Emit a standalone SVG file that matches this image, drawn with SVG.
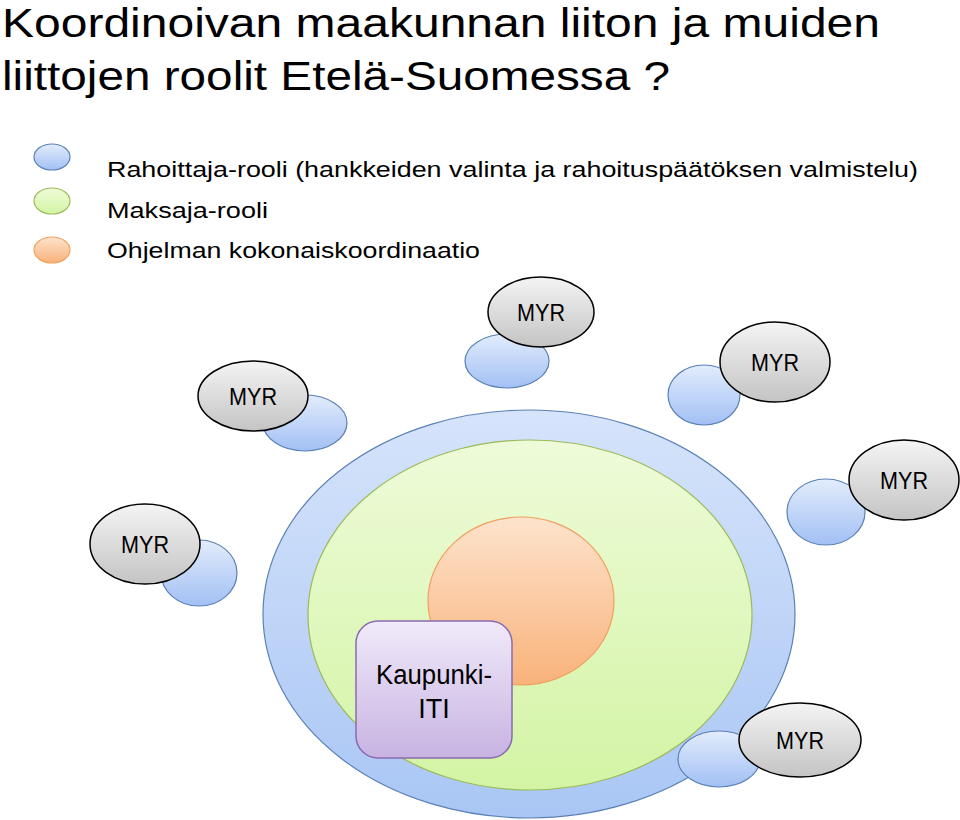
<svg xmlns="http://www.w3.org/2000/svg" width="960" height="820" viewBox="0 0 960 820">
<defs>
<linearGradient id="gGrey" x1="0" y1="0" x2="0" y2="1"><stop offset="0" stop-color="#f4f4f4"/><stop offset="1" stop-color="#c4c4c4"/></linearGradient>
<linearGradient id="gBlue" x1="0" y1="0" x2="0" y2="1"><stop offset="0" stop-color="#e2ecfc"/><stop offset="1" stop-color="#a2c0f4"/></linearGradient>
<linearGradient id="gBig" x1="0" y1="0" x2="0" y2="1"><stop offset="0" stop-color="#d6e4fb"/><stop offset="1" stop-color="#a9c6f4"/></linearGradient>
<linearGradient id="gGreen" x1="0" y1="0" x2="0" y2="1"><stop offset="0" stop-color="#eefbd9"/><stop offset="1" stop-color="#d3f4a4"/></linearGradient>
<linearGradient id="gOrange" x1="0" y1="0" x2="0" y2="1"><stop offset="0" stop-color="#fde3cc"/><stop offset="1" stop-color="#f9b27a"/></linearGradient>
<linearGradient id="gPurple" x1="0" y1="0" x2="0" y2="1"><stop offset="0" stop-color="#f1eafa"/><stop offset="1" stop-color="#c7b3e2"/></linearGradient>
</defs>
<style>
text{font-family:"Liberation Sans",Arial,sans-serif;fill:#000}
.title{font-size:40px}
.leg{font-size:22px}
.myr{font-size:24px;text-anchor:middle}
.grey{fill:url(#gGrey);stroke:#000;stroke-width:1.5}
.blue{fill:url(#gBlue);stroke:#5b80b6;stroke-width:1.2}
</style>
<g id="title">
<text class="title" x="2" y="37" textLength="878" lengthAdjust="spacingAndGlyphs">Koordinoivan maakunnan liiton ja muiden</text>
<text class="title" x="2" y="90" textLength="668" lengthAdjust="spacingAndGlyphs">liittojen roolit Etelä-Suomessa ?</text>
</g>
<g id="legend">
<ellipse cx="52" cy="157" rx="18" ry="13" class="blue"/>
<ellipse cx="52" cy="201" rx="18" ry="13" fill="url(#gGreen)" stroke="#9bbb59" stroke-width="1.2"/>
<ellipse cx="52" cy="250" rx="18" ry="13" fill="url(#gOrange)" stroke="#f0a060" stroke-width="1.2"/>
<text class="leg" x="107" y="177" textLength="811" lengthAdjust="spacingAndGlyphs">Rahoittaja-rooli (hankkeiden valinta ja rahoituspäätöksen valmistelu)</text>
<text class="leg" x="107" y="218" textLength="161" lengthAdjust="spacingAndGlyphs">Maksaja-rooli</text>
<text class="leg" x="107" y="258" textLength="373" lengthAdjust="spacingAndGlyphs">Ohjelman kokonaiskoordinaatio</text>
</g>
<g id="rings">
<ellipse cx="529" cy="614" rx="266" ry="204" fill="url(#gBig)" stroke="#5b80b6" stroke-width="1.2"/>
<ellipse cx="530" cy="615" rx="222" ry="175" fill="url(#gGreen)" stroke="#9bbb59" stroke-width="1.2"/>
<ellipse cx="521" cy="601" rx="93" ry="84" fill="url(#gOrange)" stroke="#f0a060" stroke-width="1.2"/>
</g>
<g id="kaupunki-iti">
<rect x="356" y="621" width="156" height="137" rx="22" fill="url(#gPurple)" stroke="#8a6bb0" stroke-width="1.5"/>
<text x="434" y="684" font-size="27" text-anchor="middle" textLength="116" lengthAdjust="spacingAndGlyphs">Kaupunki-</text>
<text x="434" y="718" font-size="27" text-anchor="middle">ITI</text>
</g>
<g id="myr1">
<ellipse cx="507" cy="361" rx="42" ry="27" class="blue"/>
<ellipse cx="541" cy="312" rx="53" ry="35" class="grey"/>
<text class="myr" x="541" y="321" textLength="48" lengthAdjust="spacingAndGlyphs">MYR</text>
</g>
<g id="myr2">
<ellipse cx="305" cy="423" rx="42" ry="28" class="blue"/>
<ellipse cx="253" cy="396" rx="55" ry="35" class="grey"/>
<text class="myr" x="253" y="405" textLength="48" lengthAdjust="spacingAndGlyphs">MYR</text>
</g>
<g id="myr3">
<ellipse cx="704" cy="395" rx="36" ry="30" class="blue"/>
<ellipse cx="775" cy="362" rx="55" ry="40" class="grey"/>
<text class="myr" x="775" y="371" textLength="48" lengthAdjust="spacingAndGlyphs">MYR</text>
</g>
<g id="myr4">
<ellipse cx="826" cy="512" rx="39" ry="33" class="blue"/>
<ellipse cx="904" cy="480" rx="55" ry="40" class="grey"/>
<text class="myr" x="904" y="489" textLength="48" lengthAdjust="spacingAndGlyphs">MYR</text>
</g>
<g id="myr5">
<ellipse cx="199" cy="573" rx="38" ry="33" class="blue"/>
<ellipse cx="145" cy="544" rx="55" ry="40" class="grey"/>
<text class="myr" x="145" y="553" textLength="48" lengthAdjust="spacingAndGlyphs">MYR</text>
</g>
<g id="myr6">
<ellipse cx="719" cy="759" rx="41" ry="28" class="blue"/>
<ellipse cx="800" cy="740" rx="61" ry="37" class="grey"/>
<text class="myr" x="800" y="749" textLength="48" lengthAdjust="spacingAndGlyphs">MYR</text>
</g>
<g id="connectors"/>
</svg>
